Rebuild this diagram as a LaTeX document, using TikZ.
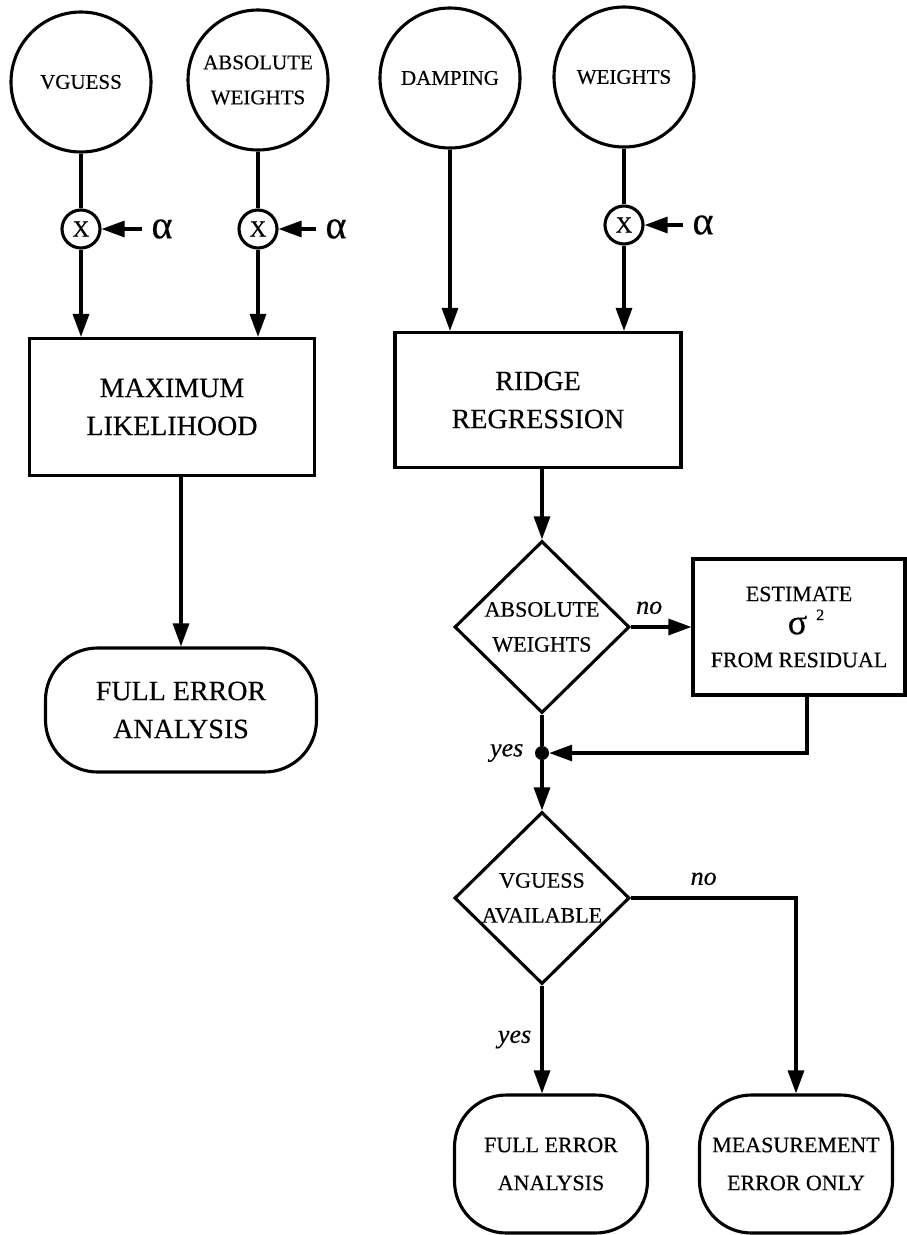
\documentclass[tikz,border=0pt]{standalone}
\usepackage{fontspec}
\setmainfont{Liberation Serif}[FakeBold=0.4]
\usetikzlibrary{shapes.geometric,arrows.meta,positioning}

\begin{document}
\begin{tikzpicture}[x=1pt,y=-1pt,
    src/.style={circle,draw,line width=3.1pt,minimum size=140pt,inner sep=0pt,align=center,font=\fontsize{21}{35}\selectfont},
    mult/.style={circle,draw,line width=3.1pt,minimum size=38pt,inner sep=0pt,font=\fontsize{23}{23}\selectfont},
    greek/.style={inner sep=9pt,font=\fontsize{40}{40}\selectfont},
    procbox/.style={rectangle,draw,line width=3.1pt,align=center,font=\fontsize{28}{38}\selectfont},
    decide/.style={diamond,draw,line width=3.1pt,minimum width=175pt,minimum height=172pt,inner sep=0pt,align=center,font=\fontsize{22}{35}\selectfont},
    term/.style={rectangle,rounded corners=52pt,draw,line width=3.1pt,align=center},
    jdot/.style={circle,fill,inner sep=0pt,minimum size=14pt},
    lbl/.style={font=\fontsize{26}{26}\selectfont\itshape},
    wire/.style={line width=3.1pt},
    arr/.style={line width=3.1pt,-{Triangle[length=23pt,width=16pt]}}]

    \useasboundingbox (0,0) rectangle (906,1235);

    % input circles
    \node [src] (vguess) at (81,82) {VGUESS};
    \node [src] (absw) at (258,80) {ABSOLUTE\\WEIGHTS};
    \node [src] (damp) at (450,78) {DAMPING};
    \node [src] (wts) at (624,77) {WEIGHTS};

    % multiply by alpha
    \node [mult] (mA) at (81,229) {X};
    \node [mult] (mB) at (258,229) {X};
    \node [mult] (mC) at (624,225) {X};
    \node [greek] (aA) at (162,229) {α};
    \node [greek] (aB) at (336,229) {α};
    \node [greek] (aC) at (703,225) {α};

    \draw [wire] (vguess) -- (mA);
    \draw [wire] (absw) -- (mB);
    \draw [wire] (wts) -- (mC);
    \draw [arr] (aA) -- (mA);
    \draw [arr] (aB) -- (mB);
    \draw [arr] (aC) -- (mC);

    % left branch
    \node [procbox,minimum width=285pt,minimum height=137pt] (ml) at (172,407) {MAXIMUM\\LIKELIHOOD};
    \node [term,minimum width=271pt,minimum height=124pt,font=\fontsize{28}{38}\selectfont] (fea) at (181,710) {FULL ERROR\\ANALYSIS};

    \draw [arr] (mA) -- (mA |- ml.north);
    \draw [arr] (mB) -- (mB |- ml.north);
    \draw [arr] (fea |- ml.south) -- (fea.north);

    % right branch
    \node [procbox,minimum width=286pt,minimum height=135pt] (rr) at (538,400) {RIDGE\\REGRESSION};
    \node [decide] (dA) at (542,627) {ABSOLUTE\\WEIGHTS};
    \node [procbox,minimum width=212pt,minimum height=136pt,font=\fontsize{22}{33}\selectfont] (est) at (799,627)
        {ESTIMATE\\\hspace*{14pt}{\fontsize{36}{36}\selectfont σ}\hspace{9pt}\raisebox{14pt}{\fontsize{16}{16}\selectfont 2}\\FROM RESIDUAL};
    \node [jdot] (jA) at (542,753) {};
    \node [lbl,left=8pt of jA] (yesA) {yes};
    \node [decide] (dB) at (542,898) {VGUESS\\AVAILABLE};
    \node [term,minimum width=193pt,minimum height=138pt,font=\fontsize{22}{38}\selectfont] (ff) at (551,1164) {FULL ERROR\\ANALYSIS};
    \node [term,minimum width=193pt,minimum height=138pt,font=\fontsize{22}{38}\selectfont] (mo) at (796,1164) {MEASUREMENT\\ERROR ONLY};

    \draw [arr] (damp) -- (damp |- rr.north);
    \draw [arr] (mC) -- (mC |- rr.north);
    \draw [arr] (dA |- rr.south) -- (dA.north);
    \draw [arr] (dA.east) -- (est.west) node [lbl,pos=0.3,above=8pt] {no};
    \draw [arr] ([xshift=8pt]est.south) |- (jA.east);
    \draw [wire] (dA.south) -- (jA);
    \draw [arr] (jA) -- (dB.north);
    \draw [arr] (dB.east) -| (mo.north) node [lbl,pos=0.22,above=8pt] {no};
    \draw [arr] (dB.south) -- (dB.south |- ff.north) node [lbl,midway,left=6pt] {yes};

\end{tikzpicture}
\end{document}
